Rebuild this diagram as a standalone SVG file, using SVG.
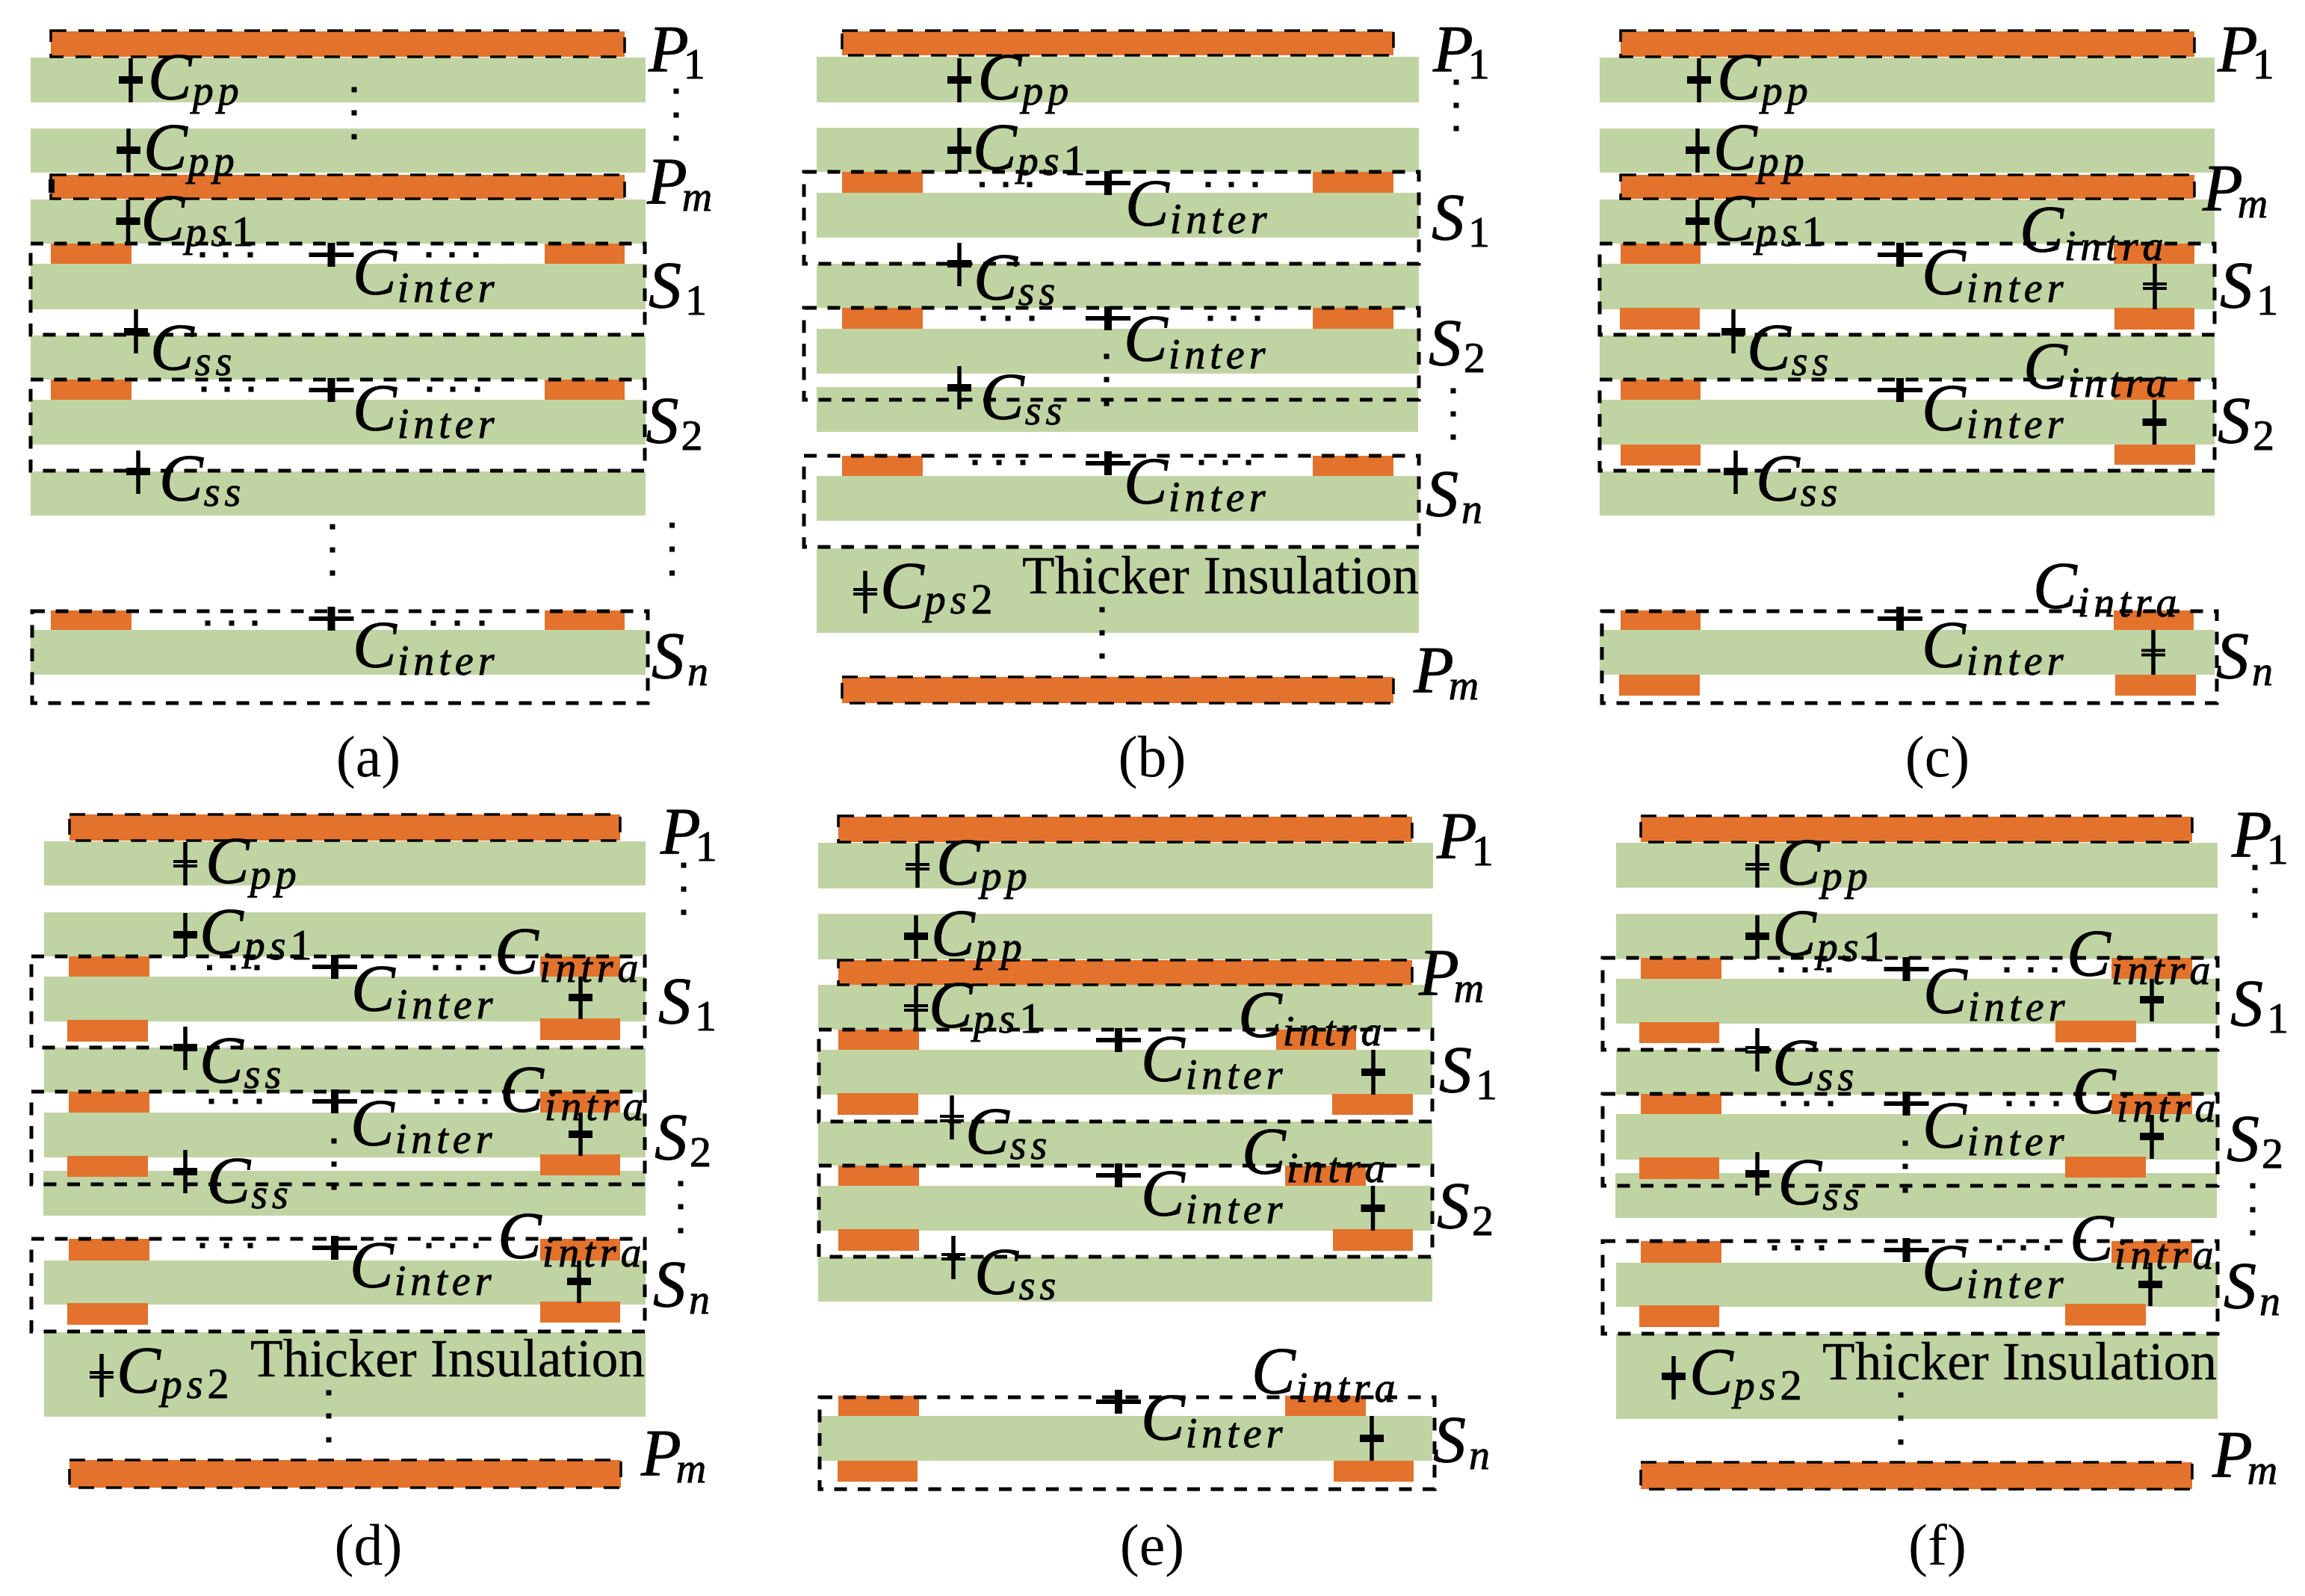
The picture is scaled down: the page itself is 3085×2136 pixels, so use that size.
<svg xmlns="http://www.w3.org/2000/svg" width="3085" height="2136" viewBox="0 0 3085 2136">
<style>
text{font-family:"Liberation Serif",serif;fill:#000}
.m{font-size:88px;font-style:italic;stroke:#000;stroke-width:.9px;transform:translateX(-4px)}
.s{font-size:56px;font-style:italic;letter-spacing:6px}
.u{font-size:58px;font-style:normal}
.r{font-size:71px;stroke:#000;stroke-width:.4px}
.t{text-anchor:middle;font-size:78px}
.g{fill:#c0d4a3}
.o{fill:#e3722c}
.d{fill:none;stroke:#000;stroke-width:5;stroke-dasharray:17 14.5}
.b{fill:none;stroke:#000;stroke-width:3.5;stroke-dasharray:21 16}
.w{fill:none;stroke:#000;stroke-width:5.5}
</style>
<defs>
<rect id="ps" x="-16" y="-5" width="32" height="10"/>
<g id="pd"><rect x="-16" y="-5" width="32" height="4"/><rect x="-16" y="1" width="32" height="4"/></g>
<g id="hc"><rect x="-30" y="-3" width="60" height="6"/><rect x="-5" y="-16" width="10" height="32"/></g>
<rect id="dot" x="-3.5" y="-3.5" width="7" height="7"/>
</defs>

<g id="panel-a">
<g id="a-layers">
<rect class="g" x="41" y="77" width="823" height="60"/><rect class="g" x="41" y="172" width="823" height="59"/><rect class="g" x="41" y="267" width="823" height="59"/><rect class="g" x="41" y="353" width="823" height="61"/><rect class="g" x="41" y="449" width="823" height="59"/><rect class="g" x="41" y="535" width="823" height="60"/><rect class="g" x="41" y="631" width="823" height="59"/><rect class="g" x="41" y="843" width="823" height="60"/>
<rect class="o" x="68" y="42" width="768" height="34"/><rect class="o" x="68" y="234" width="768" height="32"/>
<rect class="o" x="68" y="326" width="108" height="27"/><rect class="o" x="729" y="326" width="107" height="27"/><rect class="o" x="68" y="508" width="108" height="27"/><rect class="o" x="729" y="508" width="107" height="27"/><rect class="o" x="68" y="817" width="108" height="26"/><rect class="o" x="729" y="817" width="107" height="26"/>
</g>
<g id="a-boxes">
<rect class="b" x="68" y="41" width="768" height="35"/><rect class="b" x="68" y="234" width="768" height="32"/>
<rect x="65" y="240" width="8" height="18"/>
<rect class="d" x="41" y="326" width="822" height="122"/><rect class="d" x="41" y="508" width="822" height="122"/><rect class="d" x="43" y="818" width="824" height="123"/>
</g>
<g id="a-caps">
<path class="w" d="M175 78V137M172 172V231M171.500 267V326M182 414V473M185 603V661"/>
<use href="#ps" x="175" y="107"/><use href="#ps" x="172" y="201"/><use href="#ps" x="171.500" y="296"/><use href="#ps" x="182" y="444"/><use href="#ps" x="185" y="631"/>
<use href="#hc" x="443.500" y="341"/><use href="#hc" x="443.500" y="522"/><use href="#hc" x="443.500" y="828"/>
</g>
<g id="a-dots">
<use href="#dot" x="474" y="120"/><use href="#dot" x="474" y="151"/><use href="#dot" x="474" y="183"/><use href="#dot" x="905" y="122"/><use href="#dot" x="905" y="154"/><use href="#dot" x="905" y="185"/>
<use href="#dot" x="271" y="341"/><use href="#dot" x="302" y="341"/><use href="#dot" x="335" y="341"/><use href="#dot" x="574" y="341"/><use href="#dot" x="605" y="341"/><use href="#dot" x="637" y="341"/>
<use href="#dot" x="273" y="521"/><use href="#dot" x="304" y="521"/><use href="#dot" x="336" y="521"/><use href="#dot" x="575" y="521"/><use href="#dot" x="606" y="521"/><use href="#dot" x="639" y="521"/>
<use href="#dot" x="445" y="705"/><use href="#dot" x="445" y="736"/><use href="#dot" x="445" y="767"/><use href="#dot" x="899.500" y="703"/><use href="#dot" x="899.500" y="735"/><use href="#dot" x="899.500" y="767"/>
<use href="#dot" x="278" y="834"/><use href="#dot" x="310" y="834"/><use href="#dot" x="341" y="834"/><use href="#dot" x="580" y="834"/><use href="#dot" x="612" y="834"/><use href="#dot" x="645" y="834"/>
</g>
<g id="a-labels">
<text class="m" x="202" y="132">C<tspan class="s" dx="1" dy="8">pp</tspan></text>
<text class="m" x="196" y="226">C<tspan class="s" dx="1" dy="8">pp</tspan></text>
<text class="m" x="192.500" y="321">C<tspan class="s" dx="1" dy="8">p</tspan><tspan class="s">s</tspan><tspan class="s u">1</tspan></text>
<text class="m" x="476" y="393">C<tspan class="s" dx="1" dy="11">inter</tspan></text>
<text class="m" x="205" y="494">C<tspan class="s" dx="1" dy="8">ss</tspan></text>
<text class="m" x="476" y="575">C<tspan class="s" dx="1" dy="11">inter</tspan></text>
<text class="m" x="217" y="669">C<tspan class="s" dx="1" dy="8">ss</tspan></text>
<text class="m" x="476" y="892">C<tspan class="s" dx="1" dy="11">inter</tspan></text>
<text class="m" x="872" y="95">P<tspan class="s u" dx="-7" dy="10">1</tspan></text>
<text class="m" x="870" y="272">P<tspan class="s" dx="-7" dy="10">m</tspan></text>
<text class="m" x="872" y="411">S<tspan class="s u" dx="5" dy="10">1</tspan></text>
<text class="m" x="868.500" y="592">S<tspan class="s u" dx="3" dy="10">2</tspan></text>
<text class="m" x="876" y="907">S<tspan class="s" dx="4" dy="10">n</tspan></text>
<text class="t" x="493" y="1039">(a)</text>
</g>
</g>

<g id="panel-b">
<g id="b-layers">
<rect class="g" x="1093" y="76" width="806" height="61"/><rect class="g" x="1093" y="171" width="806" height="59"/><rect class="g" x="1093" y="258" width="806" height="60"/><rect class="g" x="1093" y="353" width="806" height="59"/><rect class="g" x="1093" y="440" width="806" height="60"/><rect class="g" x="1093" y="518" width="805" height="60"/><rect class="g" x="1093" y="637" width="806" height="60"/><rect class="g" x="1093" y="734" width="806" height="113"/>
<rect class="o" x="1127" y="42" width="738" height="32"/><rect class="o" x="1127" y="906" width="738" height="35"/>
<rect class="o" x="1127" y="230" width="108" height="28"/><rect class="o" x="1757" y="230" width="108" height="28"/><rect class="o" x="1127" y="412" width="108" height="28"/><rect class="o" x="1757" y="412" width="108" height="28"/><rect class="o" x="1127" y="610" width="108" height="27"/><rect class="o" x="1757" y="610" width="108" height="27"/>
</g>
<g id="b-boxes">
<rect class="b" x="1127" y="41" width="738" height="33"/><rect class="b" x="1127" y="906" width="738" height="35"/>
<rect class="d" x="1076" y="230" width="823" height="123"/><rect class="d" x="1076" y="412" width="823" height="123"/><rect class="d" x="1076" y="610" width="823" height="122"/>
</g>
<g id="b-caps">
<path class="w" d="M1284 78V137M1284 171V230M1284 325V383M1284 490V548M1158 764V821"/>
<use href="#ps" x="1284" y="107"/><use href="#ps" x="1284" y="201"/><use href="#ps" x="1284" y="353"/><use href="#ps" x="1284" y="519"/><use href="#pd" x="1158" y="792"/>
<use href="#hc" x="1483" y="245"/><use href="#hc" x="1483" y="426"/><use href="#hc" x="1483" y="620"/>
</g>
<g id="b-dots">
<use href="#dot" x="1949" y="110"/><use href="#dot" x="1949" y="141"/><use href="#dot" x="1949" y="172"/>
<use href="#dot" x="1314.500" y="247"/><use href="#dot" x="1346" y="247"/><use href="#dot" x="1378" y="247"/><use href="#dot" x="1617" y="247"/><use href="#dot" x="1648" y="247"/><use href="#dot" x="1680" y="247"/>
<use href="#dot" x="1316" y="426"/><use href="#dot" x="1349" y="426"/><use href="#dot" x="1381" y="426"/><use href="#dot" x="1620" y="426"/><use href="#dot" x="1651" y="426"/><use href="#dot" x="1683" y="426"/>
<use href="#dot" x="1305" y="619"/><use href="#dot" x="1337" y="619"/><use href="#dot" x="1369" y="619"/><use href="#dot" x="1608" y="619"/><use href="#dot" x="1640" y="619"/><use href="#dot" x="1671" y="619"/>
<use href="#dot" x="1481" y="477"/><use href="#dot" x="1481" y="508"/><use href="#dot" x="1481" y="540"/><use href="#dot" x="1945" y="523"/><use href="#dot" x="1945" y="554"/><use href="#dot" x="1945" y="585"/>
<use href="#dot" x="1475" y="816"/><use href="#dot" x="1475" y="847"/><use href="#dot" x="1475" y="878"/>
</g>
<g id="b-labels">
<text class="m" x="1312.500" y="132">C<tspan class="s" dx="1" dy="8">pp</tspan></text>
<text class="m" x="1306" y="226">C<tspan class="s" dx="1" dy="8">p</tspan><tspan class="s">s</tspan><tspan class="s u">1</tspan></text>
<text class="m" x="1510" y="301">C<tspan class="s" dx="1" dy="11">inter</tspan></text>
<text class="m" x="1307" y="400">C<tspan class="s" dx="1" dy="8">ss</tspan></text>
<text class="m" x="1508" y="482">C<tspan class="s" dx="1" dy="11">inter</tspan></text>
<text class="m" x="1316" y="560">C<tspan class="s" dx="1" dy="8">ss</tspan></text>
<text class="m" x="1508" y="673">C<tspan class="s" dx="1" dy="11">inter</tspan></text>
<text class="m" x="1182" y="813">C<tspan class="s" dx="1" dy="8">p</tspan><tspan class="s">s</tspan><tspan class="s u">2</tspan></text>
<text class="r" x="1368" y="794" textLength="531">Thicker Insulation</text>
<text class="m" x="1922" y="95">P<tspan class="s u" dx="-7" dy="10">1</tspan></text>
<text class="m" x="1920" y="320">S<tspan class="s u" dx="5" dy="10">1</tspan></text>
<text class="m" x="1916" y="488">S<tspan class="s u" dx="3" dy="10">2</tspan></text>
<text class="m" x="1912" y="690">S<tspan class="s" dx="4" dy="10">n</tspan></text>
<text class="m" x="1896" y="926">P<tspan class="s" dx="-7" dy="10">m</tspan></text>
<text class="t" x="1542" y="1039">(b)</text>
</g>
</g>

<g id="panel-c">
<g id="c-layers">
<rect class="g" x="2141" y="77" width="823" height="60"/><rect class="g" x="2141" y="172" width="823" height="59"/><rect class="g" x="2141" y="267" width="823" height="59"/><rect class="g" x="2141" y="353" width="823" height="61"/><rect class="g" x="2141" y="449" width="823" height="59"/><rect class="g" x="2141" y="535" width="823" height="60"/><rect class="g" x="2141" y="631" width="823" height="59"/><rect class="g" x="2141" y="843" width="823" height="60"/>
<rect class="o" x="2169" y="42" width="768" height="34"/><rect class="o" x="2169" y="234" width="768" height="32"/>
<rect class="o" x="2169" y="326" width="107" height="27"/><rect class="o" x="2829" y="326" width="108" height="27"/><rect class="o" x="2168" y="412" width="107" height="29"/><rect class="o" x="2830" y="412" width="107" height="29"/>
<rect class="o" x="2169" y="508" width="107" height="27"/><rect class="o" x="2829" y="508" width="108" height="27"/><rect class="o" x="2169" y="595" width="107" height="28"/><rect class="o" x="2830" y="595" width="108" height="27"/>
<rect class="o" x="2169" y="817" width="107" height="26"/><rect class="o" x="2829" y="817" width="107" height="26"/><rect class="o" x="2167" y="903" width="108" height="28"/><rect class="o" x="2831" y="903" width="108" height="28"/>
</g>
<g id="c-boxes">
<rect class="b" x="2169" y="41" width="768" height="35"/><rect class="b" x="2169" y="234" width="768" height="32"/>
<rect class="d" x="2141" y="326" width="823" height="122"/><rect class="d" x="2141" y="508" width="823" height="122"/><rect class="d" x="2144" y="818" width="823" height="123"/>
</g>
<g id="c-caps">
<path class="w" d="M2274 78V137M2272 172V231M2272 267V326M2320 414V473M2323 603V661M2884 353V414M2883.500 535V595M2882 843V903"/>
<use href="#ps" x="2274" y="107"/><use href="#ps" x="2272" y="201"/><use href="#ps" x="2272" y="296"/><use href="#ps" x="2320" y="444"/><use href="#ps" x="2323" y="631"/>
<use href="#pd" x="2884" y="383"/><use href="#ps" x="2883.500" y="565"/><use href="#pd" x="2882" y="873.500"/>
<use href="#hc" x="2543" y="341"/><use href="#hc" x="2543" y="522"/><use href="#hc" x="2543" y="828"/>
</g>
<g id="c-labels">
<text class="m" x="2302" y="132">C<tspan class="s" dx="1" dy="8">pp</tspan></text>
<text class="m" x="2297" y="226">C<tspan class="s" dx="1" dy="8">pp</tspan></text>
<text class="m" x="2294" y="321">C<tspan class="s" dx="1" dy="8">p</tspan><tspan class="s">s</tspan><tspan class="s u">1</tspan></text>
<text class="m" x="2707" y="336">C<tspan class="s" dx="1" dy="12">intra</tspan></text>
<text class="m" x="2576" y="393">C<tspan class="s" dx="1" dy="11">inter</tspan></text>
<text class="m" x="2342" y="494">C<tspan class="s" dx="1" dy="8">ss</tspan></text>
<text class="m" x="2712" y="519">C<tspan class="s" dx="1" dy="12">intra</tspan></text>
<text class="m" x="2576" y="575">C<tspan class="s" dx="1" dy="11">inter</tspan></text>
<text class="m" x="2354" y="669">C<tspan class="s" dx="1" dy="8">ss</tspan></text>
<text class="m" x="2725" y="813">C<tspan class="s" dx="1" dy="12">intra</tspan></text>
<text class="m" x="2576" y="892">C<tspan class="s" dx="1" dy="11">inter</tspan></text>
<text class="m" x="2972" y="95">P<tspan class="s u" dx="-7" dy="10">1</tspan></text>
<text class="m" x="2952" y="281">P<tspan class="s" dx="-7" dy="10">m</tspan></text>
<text class="m" x="2975" y="411">S<tspan class="s u" dx="5" dy="10">1</tspan></text>
<text class="m" x="2972" y="592">S<tspan class="s u" dx="3" dy="10">2</tspan></text>
<text class="m" x="2970" y="907">S<tspan class="s" dx="4" dy="10">n</tspan></text>
<text class="t" x="2593" y="1039">(c)</text>
</g>
</g>

<g id="panel-d">
<g id="d-layers">
<rect class="g" x="59" y="1126" width="805" height="59"/><rect class="g" x="59" y="1221" width="805" height="59"/><rect class="g" x="59" y="1307" width="805" height="60"/><rect class="g" x="59" y="1402" width="805" height="60"/><rect class="g" x="59" y="1489" width="805" height="60"/><rect class="g" x="58" y="1567" width="806" height="60"/><rect class="g" x="59" y="1687" width="805" height="59"/><rect class="g" x="59" y="1783" width="805" height="113"/>
<rect class="o" x="93" y="1090" width="737" height="35"/><rect class="o" x="93" y="1954" width="738" height="37"/>
<rect class="o" x="92" y="1280" width="108" height="27"/><rect class="o" x="723" y="1280" width="107" height="27"/><rect class="o" x="90" y="1365" width="108" height="29"/><rect class="o" x="723" y="1363" width="107" height="29"/>
<rect class="o" x="92" y="1461" width="108" height="28"/><rect class="o" x="723" y="1461" width="107" height="28"/><rect class="o" x="90" y="1547" width="108" height="28"/><rect class="o" x="723" y="1545" width="107" height="28"/>
<rect class="o" x="92" y="1658" width="108" height="29"/><rect class="o" x="723" y="1658" width="107" height="29"/><rect class="o" x="90" y="1744" width="108" height="29"/><rect class="o" x="723" y="1742" width="107" height="28"/>
</g>
<g id="d-boxes">
<rect class="b" x="93" y="1090" width="737" height="35"/><rect class="b" x="93" y="1954" width="738" height="37"/>
<rect class="d" x="42" y="1280" width="821" height="122"/><rect class="d" x="42" y="1461" width="821" height="124"/><rect class="d" x="42" y="1658" width="821" height="124"/>
</g>
<g id="d-caps">
<path class="w" d="M248 1127V1185M248 1222V1281M248 1374V1432M248 1539V1597M136 1812V1870M777 1307V1364M777 1489V1547M775 1687V1744"/>
<use href="#pd" x="248" y="1156"/><use href="#ps" x="248" y="1251"/><use href="#ps" x="248" y="1402"/><use href="#ps" x="248" y="1568"/><use href="#pd" x="136" y="1840"/>
<use href="#ps" x="777" y="1335"/><use href="#ps" x="777" y="1518"/><use href="#ps" x="775" y="1715"/>
<use href="#hc" x="448" y="1294"/><use href="#hc" x="448" y="1474"/><use href="#hc" x="448" y="1670"/>
</g>
<g id="d-dots">
<use href="#dot" x="915" y="1158"/><use href="#dot" x="915" y="1190"/><use href="#dot" x="915" y="1221"/>
<use href="#dot" x="280.500" y="1295"/><use href="#dot" x="312" y="1295"/><use href="#dot" x="344" y="1295"/><use href="#dot" x="583" y="1295"/><use href="#dot" x="614" y="1295"/><use href="#dot" x="646" y="1295"/>
<use href="#dot" x="283" y="1474"/><use href="#dot" x="315" y="1474"/><use href="#dot" x="347" y="1474"/><use href="#dot" x="585" y="1474"/><use href="#dot" x="617" y="1474"/><use href="#dot" x="649" y="1474"/>
<use href="#dot" x="271" y="1667"/><use href="#dot" x="303" y="1667"/><use href="#dot" x="335" y="1667"/><use href="#dot" x="574" y="1667"/><use href="#dot" x="606" y="1667"/><use href="#dot" x="637" y="1667"/>
<use href="#dot" x="447" y="1527"/><use href="#dot" x="447" y="1558"/><use href="#dot" x="447" y="1589"/><use href="#dot" x="911" y="1584"/><use href="#dot" x="911" y="1615"/><use href="#dot" x="911" y="1647"/>
<use href="#dot" x="440" y="1864"/><use href="#dot" x="440" y="1895"/><use href="#dot" x="440" y="1927"/>
</g>
<g id="d-labels">
<text class="m" x="279" y="1181">C<tspan class="s" dx="1" dy="8">pp</tspan></text>
<text class="m" x="271" y="1276">C<tspan class="s" dx="1" dy="8">p</tspan><tspan class="s">s</tspan><tspan class="s u">1</tspan></text>
<text class="m" x="666" y="1302">C<tspan class="s" dx="1" dy="12">intra</tspan></text>
<text class="m" x="474" y="1352">C<tspan class="s" dx="1" dy="11">inter</tspan></text>
<text class="m" x="271" y="1448">C<tspan class="s" dx="1" dy="8">ss</tspan></text>
<text class="m" x="673" y="1487">C<tspan class="s" dx="1" dy="12">intra</tspan></text>
<text class="m" x="473" y="1532">C<tspan class="s" dx="1" dy="11">inter</tspan></text>
<text class="m" x="280.500" y="1609">C<tspan class="s" dx="1" dy="8">ss</tspan></text>
<text class="m" x="670" y="1683">C<tspan class="s" dx="1" dy="12">intra</tspan></text>
<text class="m" x="472" y="1722">C<tspan class="s" dx="1" dy="11">inter</tspan></text>
<text class="m" x="160" y="1863">C<tspan class="s" dx="1" dy="8">p</tspan><tspan class="s">s</tspan><tspan class="s u">2</tspan></text>
<text class="r" x="335" y="1842" textLength="528">Thicker Insulation</text>
<text class="m" x="888" y="1142">P<tspan class="s u" dx="-7" dy="10">1</tspan></text>
<text class="m" x="885" y="1369">S<tspan class="s u" dx="5" dy="10">1</tspan></text>
<text class="m" x="880" y="1551">S<tspan class="s u" dx="3" dy="10">2</tspan></text>
<text class="m" x="878" y="1748">S<tspan class="s" dx="4" dy="10">n</tspan></text>
<text class="m" x="862" y="1974">P<tspan class="s" dx="-7" dy="10">m</tspan></text>
<text class="t" x="493" y="2094">(d)</text>
</g>
</g>

<g id="panel-e">
<g id="e-layers">
<rect class="g" x="1095" y="1128" width="823" height="61"/><rect class="g" x="1095" y="1223" width="822" height="61"/><rect class="g" x="1095" y="1318" width="822" height="60"/><rect class="g" x="1095" y="1405" width="822" height="60"/><rect class="g" x="1095" y="1501" width="822" height="59"/><rect class="g" x="1095" y="1587" width="822" height="60"/><rect class="g" x="1095" y="1682" width="822" height="60"/><rect class="g" x="1095" y="1895" width="822" height="60"/>
<rect class="o" x="1122" y="1093" width="768" height="34"/><rect class="o" x="1122" y="1285" width="768" height="33"/>
<rect class="o" x="1122" y="1378" width="108" height="27"/><rect class="o" x="1708" y="1378" width="107" height="27"/><rect class="o" x="1121" y="1463" width="108" height="29"/><rect class="o" x="1783" y="1464" width="108" height="28"/>
<rect class="o" x="1122" y="1560" width="108" height="27"/><rect class="o" x="1720" y="1560" width="108" height="27"/><rect class="o" x="1122" y="1645" width="108" height="29"/><rect class="o" x="1784" y="1645" width="107" height="29"/>
<rect class="o" x="1122" y="1868" width="108" height="27"/><rect class="o" x="1720" y="1868" width="108" height="27"/><rect class="o" x="1121" y="1955" width="107" height="28"/><rect class="o" x="1785" y="1955" width="107" height="28"/>
</g>
<g id="e-boxes">
<rect class="b" x="1122" y="1092" width="768" height="35"/><rect class="b" x="1122" y="1285" width="768" height="33"/>
<rect class="d" x="1096" y="1378" width="821" height="123"/><rect class="d" x="1096" y="1560" width="821" height="122"/><rect class="d" x="1097" y="1870" width="823" height="123"/>
</g>
<g id="e-caps">
<path class="w" d="M1228 1129V1188M1226 1225V1283M1226 1319V1377M1274 1466V1525M1276 1654V1712M1838 1405V1465M1837.500 1587V1647M1836 1895V1955"/>
<use href="#pd" x="1228" y="1160"/><use href="#ps" x="1226" y="1253"/><use href="#pd" x="1226" y="1349"/><use href="#pd" x="1274" y="1497"/><use href="#pd" x="1276" y="1682"/>
<use href="#ps" x="1838" y="1435"/><use href="#ps" x="1837.500" y="1617"/><use href="#ps" x="1836" y="1925"/>
<use href="#hc" x="1497" y="1392"/><use href="#hc" x="1497" y="1573"/><use href="#hc" x="1497" y="1876"/>
</g>
<g id="e-labels">
<text class="m" x="1257" y="1183">C<tspan class="s" dx="1" dy="8">pp</tspan></text>
<text class="m" x="1250" y="1278">C<tspan class="s" dx="1" dy="8">pp</tspan></text>
<text class="m" x="1247" y="1374">C<tspan class="s" dx="1" dy="8">p</tspan><tspan class="s">s</tspan><tspan class="s u">1</tspan></text>
<text class="m" x="1661" y="1387">C<tspan class="s" dx="1" dy="12">intra</tspan></text>
<text class="m" x="1531" y="1446">C<tspan class="s" dx="1" dy="11">inter</tspan></text>
<text class="m" x="1296" y="1542.500">C<tspan class="s" dx="1" dy="8">ss</tspan></text>
<text class="m" x="1666" y="1570">C<tspan class="s" dx="1" dy="12">intra</tspan></text>
<text class="m" x="1531" y="1626">C<tspan class="s" dx="1" dy="11">inter</tspan></text>
<text class="m" x="1308" y="1731">C<tspan class="s" dx="1" dy="8">ss</tspan></text>
<text class="m" x="1679" y="1864">C<tspan class="s" dx="1" dy="12">intra</tspan></text>
<text class="m" x="1531" y="1926">C<tspan class="s" dx="1" dy="11">inter</tspan></text>
<text class="m" x="1927" y="1148">P<tspan class="s u" dx="-7" dy="10">1</tspan></text>
<text class="m" x="1903" y="1331">P<tspan class="s" dx="-7" dy="10">m</tspan></text>
<text class="m" x="1930" y="1461">S<tspan class="s u" dx="5" dy="10">1</tspan></text>
<text class="m" x="1927" y="1643">S<tspan class="s u" dx="3" dy="10">2</tspan></text>
<text class="m" x="1922" y="1956">S<tspan class="s" dx="4" dy="10">n</tspan></text>
<text class="t" x="1542" y="2094">(e)</text>
</g>
</g>

<g id="panel-f">
<g id="f-layers">
<rect class="g" x="2163" y="1128" width="805" height="60"/><rect class="g" x="2163" y="1223" width="805" height="60"/><rect class="g" x="2163" y="1310" width="805" height="60"/><rect class="g" x="2163" y="1405" width="805" height="60"/><rect class="g" x="2163" y="1491" width="805" height="61"/><rect class="g" x="2162" y="1570" width="805" height="60"/><rect class="g" x="2163" y="1690" width="805" height="59"/><rect class="g" x="2163" y="1785" width="805" height="114"/>
<rect class="o" x="2196" y="1093" width="738" height="34"/><rect class="o" x="2196" y="1957" width="738" height="36"/>
<rect class="o" x="2196" y="1282" width="108" height="28"/><rect class="o" x="2826" y="1282" width="108" height="28"/><rect class="o" x="2194" y="1368" width="107" height="28"/><rect class="o" x="2751" y="1366" width="108" height="29"/>
<rect class="o" x="2196" y="1464" width="108" height="27"/><rect class="o" x="2826" y="1464" width="108" height="27"/><rect class="o" x="2194" y="1549" width="107" height="29"/><rect class="o" x="2764" y="1548" width="108" height="28"/>
<rect class="o" x="2196" y="1661" width="108" height="29"/><rect class="o" x="2826" y="1661" width="108" height="29"/><rect class="o" x="2194" y="1747" width="107" height="29"/><rect class="o" x="2764" y="1745" width="108" height="29"/>
</g>
<g id="f-boxes">
<rect class="b" x="2196" y="1092" width="738" height="35"/><rect class="b" x="2196" y="1957" width="738" height="36"/>
<rect class="d" x="2145" y="1282" width="823" height="123"/><rect class="d" x="2145" y="1464" width="823" height="123"/><rect class="d" x="2145" y="1661" width="823" height="124"/>
</g>
<g id="f-caps">
<path class="w" d="M2352 1130V1188M2352 1225V1283M2352 1376V1434M2352 1542V1600M2240 1815V1873M2880 1310V1367M2880 1492V1551M2878 1690V1748"/>
<use href="#pd" x="2352" y="1160"/><use href="#ps" x="2352" y="1253"/><use href="#pd" x="2352" y="1405"/><use href="#ps" x="2352" y="1571"/><use href="#ps" x="2240" y="1842"/>
<use href="#ps" x="2880" y="1338"/><use href="#ps" x="2880" y="1521"/><use href="#ps" x="2878" y="1719"/>
<use href="#hc" x="2551.500" y="1297"/><use href="#hc" x="2551.500" y="1477"/><use href="#hc" x="2551.500" y="1673"/>
</g>
<g id="f-dots">
<use href="#dot" x="3018" y="1161"/><use href="#dot" x="3018" y="1192"/><use href="#dot" x="3018" y="1225"/>
<use href="#dot" x="2384" y="1298"/><use href="#dot" x="2416" y="1298"/><use href="#dot" x="2448" y="1298"/><use href="#dot" x="2686" y="1298"/><use href="#dot" x="2718" y="1298"/><use href="#dot" x="2750" y="1298"/>
<use href="#dot" x="2387" y="1477"/><use href="#dot" x="2418" y="1477"/><use href="#dot" x="2450" y="1477"/><use href="#dot" x="2689" y="1477"/><use href="#dot" x="2720" y="1477"/><use href="#dot" x="2752" y="1477"/>
<use href="#dot" x="2375" y="1670"/><use href="#dot" x="2406" y="1670"/><use href="#dot" x="2438" y="1670"/><use href="#dot" x="2676" y="1670"/><use href="#dot" x="2708" y="1670"/><use href="#dot" x="2740" y="1670"/>
<use href="#dot" x="2550" y="1530"/><use href="#dot" x="2550" y="1561"/><use href="#dot" x="2550" y="1593"/><use href="#dot" x="3015" y="1587"/><use href="#dot" x="3015" y="1619"/><use href="#dot" x="3015" y="1650"/>
<use href="#dot" x="2544" y="1867"/><use href="#dot" x="2544" y="1898"/><use href="#dot" x="2544" y="1930"/>
</g>
<g id="f-labels">
<text class="m" x="2382" y="1183">C<tspan class="s" dx="1" dy="8">pp</tspan></text>
<text class="m" x="2376" y="1278">C<tspan class="s" dx="1" dy="8">p</tspan><tspan class="s">s</tspan><tspan class="s u">1</tspan></text>
<text class="m" x="2770" y="1305">C<tspan class="s" dx="1" dy="12">intra</tspan></text>
<text class="m" x="2578" y="1355">C<tspan class="s" dx="1" dy="11">inter</tspan></text>
<text class="m" x="2376" y="1451">C<tspan class="s" dx="1" dy="8">ss</tspan></text>
<text class="m" x="2777" y="1489">C<tspan class="s" dx="1" dy="12">intra</tspan></text>
<text class="m" x="2577" y="1535">C<tspan class="s" dx="1" dy="11">inter</tspan></text>
<text class="m" x="2383.500" y="1611">C<tspan class="s" dx="1" dy="8">ss</tspan></text>
<text class="m" x="2774" y="1686">C<tspan class="s" dx="1" dy="12">intra</tspan></text>
<text class="m" x="2576" y="1726">C<tspan class="s" dx="1" dy="11">inter</tspan></text>
<text class="m" x="2265" y="1865">C<tspan class="s" dx="1" dy="8">p</tspan><tspan class="s">s</tspan><tspan class="s u">2</tspan></text>
<text class="r" x="2439" y="1846" textLength="528">Thicker Insulation</text>
<text class="m" x="2991" y="1146">P<tspan class="s u" dx="-7" dy="10">1</tspan></text>
<text class="m" x="2989" y="1372">S<tspan class="s u" dx="5" dy="10">1</tspan></text>
<text class="m" x="2984" y="1553">S<tspan class="s u" dx="3" dy="10">2</tspan></text>
<text class="m" x="2980" y="1750">S<tspan class="s" dx="4" dy="10">n</tspan></text>
<text class="m" x="2965" y="1976">P<tspan class="s" dx="-7" dy="10">m</tspan></text>
<text class="t" x="2593" y="2094">(f)</text>
</g>
</g>
</svg>
